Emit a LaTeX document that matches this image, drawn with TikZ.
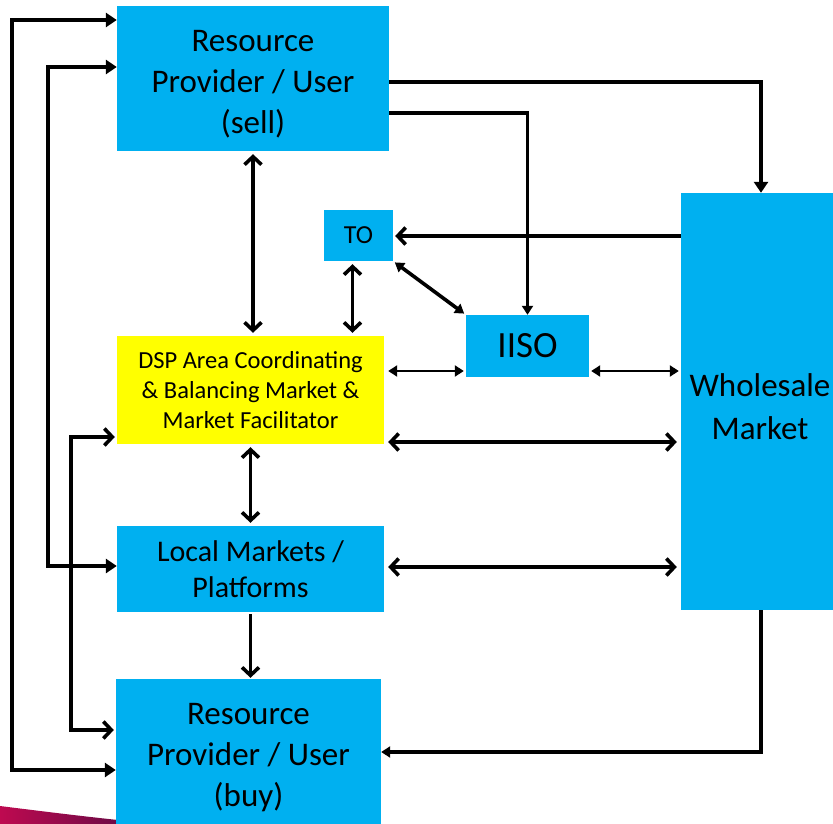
\documentclass[tikz,border=0pt]{standalone}
\usepackage{fontspec}
\setmainfont{Carlito}
\usetikzlibrary{arrows.meta}
\definecolor{boxblue}{RGB}{0,176,240}
\definecolor{boxyellow}{RGB}{255,255,0}
\definecolor{swooshA}{RGB}{190,10,80}
\definecolor{swooshB}{RGB}{110,10,70}
\tikzset{
  box/.style={fill=boxblue, draw=none, align=center, inner sep=0pt},
  ybox/.style={fill=boxyellow, draw=none, align=center, inner sep=0pt},
  txt/.style={align=center, inner sep=0pt},
  conn/.style={line width=3.6pt, black, line join=miter},
  thinconn/.style={line width=2.6pt, black},
  chev/.tip={Straight Barb[length=8pt,width=17pt,line width=3.6pt]},
  tri/.tip={Triangle[length=11pt,width=14pt]},
  stri/.tip={Triangle[length=9pt,width=11pt]},
}
\begin{document}
\begin{tikzpicture}[x=1pt,y=-1pt]
\useasboundingbox (0,0) rectangle (833,824);
\shade[left color=swooshA, right color=swooshB] (0,806) .. controls (40,811) and (80,816) .. (118,820) -- (118,830) -- (0,830) -- cycle;
% nodes
\node[box, minimum width=272pt, minimum height=145pt] (sell) at (253,78.5) {};
\node[txt, font=\fontsize{33}{41}\selectfont] (sellt) at (253,84.5) {Resource\\Provider / User\\(sell)};
\node[box, minimum width=69pt, minimum height=51pt, font=\fontsize{26}{30}\selectfont] (TO) at (358.5,235.5) {TO};
\node[ybox, minimum width=267pt, minimum height=108pt, font=\fontsize{24.5}{30}\selectfont] (DSP) at (250.5,390) {DSP Area Coordinating\\\& Balancing Market \&\\Market Facilitator};
\node[box, minimum width=123pt, minimum height=62pt, font=\fontsize{37}{44}\selectfont] (IISO) at (527.5,346) {IISO};
\node[box, minimum width=160pt, minimum height=417pt] (WM) at (761,401.5) {};
\node[txt, font=\fontsize{33}{43}\selectfont] (WMt) at (760,407) {Wholesale\\Market};
\node[box, minimum width=267pt, minimum height=86pt, font=\fontsize{30}{36}\selectfont] (LM) at (250.5,569) {Local Markets /\\Platforms};
\node[box, minimum width=265pt, minimum height=162pt] (buy) at (248.5,760) {};
\node[txt, font=\fontsize{33}{41}\selectfont] (buyt) at (248.5,758) {Resource\\Provider / User\\(buy)};
% left feedback lines
\draw[conn, tri-tri] (sell.west |- 0,20) -- (12,20) -- (12,770) -- (buy.west |- 0,770);
\draw[conn, tri-tri] (sell.west |- 0,67) -- (48,67) -- (48,566) -- (LM.west |- 0,566);
\draw[conn, chev-chev, shorten <=2pt, shorten >=2pt] (DSP.west |- 0,437) -- (71,437) -- (71,730) -- (buy.west |- 0,730);
% from sell
\draw[conn, -tri] (sell.east |- 0,82) -| (WM.north);
\draw[conn, -stri] (sell.east |- 0,113) -| (IISO.north);
\draw[conn, chev-chev, shorten <=3pt, shorten >=3pt] (sell.south) -- (sell.south |- DSP.north);
% TO
\draw[conn, -chev, shorten >=2pt] (WM.west |- 0,236) -- (TO.east |- 0,236);
\draw[conn, stri-stri, shorten <=2pt, shorten >=2pt] (TO.south east) -- (IISO.north west);
\draw[conn, chev-chev, shorten <=3pt, shorten >=3pt] ([xshift=-6pt]TO.south) -- ([xshift=-6pt]TO.south |- DSP.north);
% horizontal links
\draw[thinconn, stri-stri, shorten <=4pt, shorten >=2pt] (DSP.east |- 0,371) -- (IISO.west |- 0,371);
\draw[thinconn, stri-stri, shorten <=2pt, shorten >=2pt] (IISO.east |- 0,371) -- (WM.west |- 0,371);
\draw[conn, chev-chev, shorten <=4pt, shorten >=4pt] (DSP.east |- 0,442) -- (WM.west |- 0,442);
\draw[conn, chev-chev, shorten <=4pt, shorten >=4pt] (LM.east |- 0,567) -- (WM.west |- 0,567);
% vertical lower
\draw[conn, chev-chev, shorten <=3pt, shorten >=3pt] (DSP.south) -- (DSP.south |- LM.north);
\draw[conn, -chev, shorten <=2pt, shorten >=1pt] (LM.south) -- (LM.south |- buy.north);
\draw[conn, -stri] (WM.south) |- (buy.east |- 0,752);
\end{tikzpicture}
\end{document}
